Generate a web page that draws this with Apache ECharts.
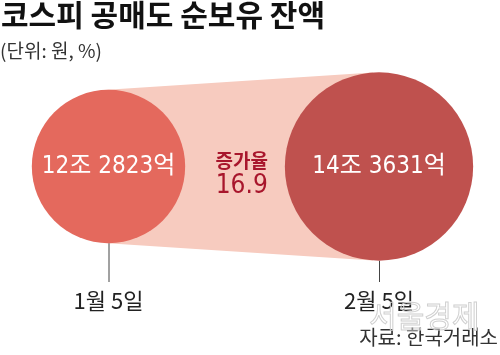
<!DOCTYPE html>
<html>
<head>
<meta charset="utf-8">
<script src="https://cdn.jsdelivr.net/npm/echarts@6/dist/echarts.min.js"></script>
<style>
  html, body { margin: 0; padding: 0; background: #fff; }
  #chart { width: 500px; height: 355px; }
</style>
</head>
<body>
<div id="chart"></div>
<script>
// 코스피 공매도 순보유 잔액 (조 원)
var dates = ['1월 5일', '2월 5일'];
var balances = [12.2823, 14.3631];
var circleColors = ['#e4695d', '#bf514e'];
var growthRate = 16.9;

var KR = "'DejaVu Sans Condensed', 'Noto Sans CJK KR', sans-serif";
var KR2 = "'Noto Sans CJK KR', sans-serif";

// 지름 = 잔액 기준 스케일
function sizeOf(v) {
    return 16.8 * v - 53;
}
function fmtWon(v) {
    var jo = Math.floor(v);
    var eok = Math.round((v - jo) * 10000);
    return jo + '조 ' + eok + '억';
}

var chart = echarts.init(document.getElementById('chart'));

var option = {
    backgroundColor: '#fff',
    animation: false,
    title: [{
        text: '코스피 공매도 순보유 잔액',
        left: 1,
        top: 0,
        padding: 0,
        textStyle: { fontFamily: KR2, fontWeight: 'bold', fontSize: 30, color: '#111' }
    }, {
        text: '(단위: 원, %)',
        left: 0,
        top: 41,
        padding: 0,
        textStyle: { fontFamily: KR2, fontWeight: 'normal', fontSize: 19, color: '#333' }
    }],
    grid: { left: 108.5, right: 121, top: 51, bottom: 73 },
    xAxis: {
        type: 'category',
        data: dates,
        boundaryGap: false,
        axisLine: { show: false },
        axisTick: { show: false },
        splitLine: { show: false },
        axisLabel: { margin: 8, fontFamily: KR2, fontSize: 22, color: '#222' }
    },
    yAxis: { type: 'value', min: 0, max: 1, show: false },
    graphic: [{
        type: 'text',
        right: 20,
        top: 300,
        z: 1,
        style: {
            text: '서울경제',
            font: '30px "Noto Sans CJK KR"',
            fill: 'rgba(255,255,255,0)',
            stroke: '#d0d0d0',
            lineWidth: 1
        }
    }, {
        type: 'text',
        right: 2,
        top: 327,
        style: {
            text: '자료: 한국거래소',
            font: '20px ' + KR2,
            fill: '#333'
        }
    }],
    series: [{
        // 두 원을 잇는 띠 + 증가율
        type: 'custom',
        z: 1,
        data: [[0, 1]],
        renderItem: function(params, api) {
            var p0 = api.coord([0, 0.5]);
            var p1 = api.coord([1, 0.5]);
            var r0 = sizeOf(balances[0]) / 2;
            var r1 = sizeOf(balances[1]) / 2;
            var d = p1[0] - p0[0];
            var s = (r1 - r0) / d;
            var c = Math.sqrt(1 - s * s);
            var pts = [
                [p0[0] - r0 * s, p0[1] - r0 * c],
                [p1[0] - r1 * s, p1[1] - r1 * c],
                [p1[0] - r1 * s, p1[1] + r1 * c],
                [p0[0] - r0 * s, p0[1] + r0 * c]
            ];
            var mx = (p0[0] + p1[0]) / 2;
            return {
                type: 'group',
                children: [{
                    type: 'polygon',
                    shape: { points: pts },
                    style: { fill: '#f7cbbf' }
                }, {
                    type: 'text',
                    x: mx - 2,
                    y: p0[1] - 6,
                    style: {
                        text: '증가율',
                        font: 'bold 19px ' + KR2,
                        fill: '#a8162c',
                        align: 'center',
                        verticalAlign: 'middle'
                    }
                }, {
                    type: 'text',
                    x: mx - 2,
                    y: p0[1] + 20,
                    style: {
                        text: String(growthRate),
                        font: '500 26px ' + KR,
                        fill: '#a8162c',
                        align: 'center',
                        verticalAlign: 'middle'
                    }
                }]
            };
        }
    }, {
        // 날짜 지시선
        type: 'custom',
        z: 1,
        data: balances.map(function(v, i) { return [i, v]; }),
        renderItem: function(params, api) {
            var i = api.value(0);
            var p = api.coord([i, 0.5]);
            var base = api.coord([i, 0]);
            var r = sizeOf(api.value(1)) / 2;
            return {
                type: 'line',
                shape: { x1: p[0] + 0.5, y1: p[1] + r, x2: p[0] + 0.5, y2: base[1] },
                style: { stroke: '#444', lineWidth: 1 }
            };
        }
    }, {
        type: 'scatter',
        z: 3,
        data: balances.map(function(v, i) {
            return { value: [i, 0.5], itemStyle: { color: circleColors[i], opacity: 1 } };
        }),
        symbol: 'circle',
        symbolSize: function(val, params) {
            return sizeOf(balances[params.dataIndex]);
        },
        itemStyle: { opacity: 1 },
        label: {
            show: true,
            position: 'inside',
            formatter: function(p) { return fmtWon(balances[p.dataIndex]); },
            fontFamily: KR,
            fontSize: 24,
            color: '#fff'
        },
        emphasis: { disabled: true }
    }]
};

chart.setOption(option);
</script>
</body>
</html>
